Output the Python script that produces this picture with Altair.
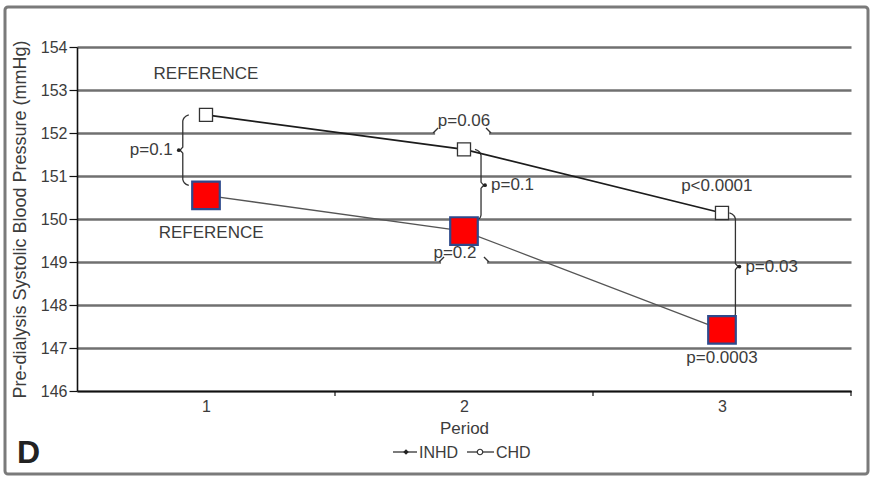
import altair as alt
import pandas as pd

# Pre-dialysis systolic blood pressure by period
periods = [1, 2, 3]
inhd_sbp = [150.55, 149.72, 147.42]
chd_sbp = [152.42, 151.62, 150.14]
y_ticks = [146, 147, 148, 149, 150, 151, 152, 153, 154]
x_ticks = [1, 2, 3]
band_edges = [1.5, 2.5, 3.5]

# between-group p-values per period, and which side of the points the brace sits
group_p = ["p=0.1", "p=0.1", "p=0.03"]
brace_side = [-1, 1, 1]
brace_shift = [0.09, 0.066, 0.052]

# within-group trend p-values
chd_trend = ["p=0.06", "p<0.0001"]
inhd_trend = ["p=0.2", "p=0.0003"]
reference_label = "REFERENCE"
legend_names = ["INHD", "CHD"]

FONT = "Liberation Sans"
TXT = "#3c3c3c"
W, H = 774, 344
XU = 3.0 / W  # x data units per pixel
YU = 8.0 / H  # y data units per pixel

xs = alt.Scale(domain=[0.5, 3.5], nice=False, zero=False)
ys = alt.Scale(domain=[146, 154], nice=False, zero=False)

x_axis = alt.Axis(
    values=x_ticks,
    title="Period",
    tickSize=0,
    labelPadding=7,
    labelFontSize=16,
    grid=False,
    titleY=29,
    titleBaseline="top",
    titleFontSize=17,
)
y_axis = alt.Axis(
    values=y_ticks,
    title="Pre-dialysis Systolic Blood Pressure (mmHg)",
    grid=True,
    tickSize=8,
    labelPadding=2,
    labelFontSize=16,
    titleX=-48,
    titleFontSize=18,
)

series = pd.DataFrame(
    {
        "period": periods * 2,
        "sbp": inhd_sbp + chd_sbp,
        "group": ["INHD"] * 3 + ["CHD"] * 3,
    }
)
inhd_df = series[series["group"] == "INHD"]
chd_df = series[series["group"] == "CHD"]

# vertical braces joining the two groups in each period
brace_rows, dot_rows, gp_rows = [], [], []
for i, p in enumerate(periods):
    s = brace_side[i]
    xc = p + s * brace_shift[i]
    ytop = chd_sbp[i]
    ybot = inhd_sbp[i] + 0.23
    ymid = (ytop + ybot) / 2
    hx, hy, px = 6 * XU, 6 * YU, 4 * XU
    pts = [
        (xc - s * hx, ytop),
        (xc - s * hx * 0.25, ytop - hy * 0.45),
        (xc, ytop - hy),
        (xc, ymid + hy * 0.5),
        (xc + s * px, ymid),
        (xc, ymid - hy * 0.5),
        (xc, ybot + hy),
        (xc - s * hx * 0.25, ybot + hy * 0.45),
        (xc - s * hx, ybot),
    ]
    for k, (bx, by) in enumerate(pts):
        brace_rows.append({"id": f"v{i}", "k": k, "x": bx, "y": by})
    dot_rows.append({"x": xc + s * px, "y": ymid})
    gp_rows.append(
        {
            "x": xc + s * (px + 6 * XU),
            "y": ymid,
            "label": group_p[i],
            "side": "left" if s > 0 else "right",
        }
    )

# horizontal braces on the gridlines for the period 1 vs 2 comparisons
gaps = [
    {"id": "h0", "x0": 1.888, "x1": 2.097, "y": 152.0},
    {"id": "h1", "x0": 1.911, "x1": 2.089, "y": 149.0},
]
gap_df = pd.DataFrame(gaps)
for g in gaps:
    lift = 5 * YU
    pts = [(g["x0"] - 2 * XU, g["y"]), (g["x0"] + 3 * XU, g["y"] + lift)]
    for k, (bx, by) in enumerate(pts):
        brace_rows.append({"id": g["id"] + "a", "k": k, "x": bx, "y": by})
    pts = [(g["x1"] - 3 * XU, g["y"] + lift), (g["x1"] + 2 * XU, g["y"])]
    for k, (bx, by) in enumerate(pts):
        brace_rows.append({"id": g["id"] + "b", "k": k, "x": bx, "y": by})

braces_df = pd.DataFrame(brace_rows)
dots_df = pd.DataFrame(dot_rows)
gp_df = pd.DataFrame(gp_rows)

trend_df = pd.DataFrame(
    {
        "x": [2.0, 2.98, 1.965, 3.0],
        "y": [chd_sbp[1] + 0.66, chd_sbp[2] + 0.62, inhd_sbp[1] - 0.52, inhd_sbp[2] - 0.65],
        "label": chd_trend + inhd_trend,
    }
)
ref_df = pd.DataFrame(
    {"x": [1.0, 1.02], "y": [153.37, 149.67], "label": [reference_label] * 2}
)
edge_df = pd.DataFrame({"x": band_edges})
one = pd.DataFrame({"k": [0]})


def X(f):
    return alt.X(f, scale=xs, axis=x_axis)


def Y(f):
    return alt.Y(f, scale=ys, axis=y_axis)


band_ticks = (
    alt.Chart(edge_df)
    .mark_rule(color="#111", strokeWidth=1.2)
    .encode(x=X("x:Q"), y=alt.value(H), y2=alt.value(H + 5))
)

gap_cover = (
    alt.Chart(gap_df)
    .mark_rule(color="white", strokeWidth=5)
    .encode(x=X("x0:Q"), x2="x1:Q", y=Y("y:Q"))
)

braces = (
    alt.Chart(braces_df)
    .mark_line(color="#333", strokeWidth=1.3, interpolate="monotone")
    .encode(x=X("x:Q"), y=Y("y:Q"), detail="id:N", order="k:Q")
)

brace_dots = (
    alt.Chart(dots_df)
    .mark_point(filled=True, color="#222", size=14, opacity=1)
    .encode(x=X("x:Q"), y=Y("y:Q"))
)

inhd_line = (
    alt.Chart(inhd_df)
    .mark_line(color="#555", strokeWidth=1.3)
    .encode(x=X("period:Q"), y=Y("sbp:Q"))
)
chd_line = (
    alt.Chart(chd_df)
    .mark_line(color="#1c1c1c", strokeWidth=1.7)
    .encode(x=X("period:Q"), y=Y("sbp:Q"))
)

inhd_pts = (
    alt.Chart(inhd_df)
    .mark_point(shape="square", filled=True, fill="#ff0000", stroke="#2e4a8c", strokeWidth=2.2, size=760, opacity=1)
    .encode(x=X("period:Q"), y=Y("sbp:Q"))
)
chd_pts = (
    alt.Chart(chd_df)
    .mark_point(shape="square", filled=True, fill="white", stroke="#333", strokeWidth=1.3, size=170, opacity=1)
    .encode(x=X("period:Q"), y=Y("sbp:Q"))
)


def text_layer(df, align="center"):
    return (
        alt.Chart(df)
        .mark_text(font=FONT, fontSize=17, color=TXT, baseline="middle", align=align)
        .encode(x=X("x:Q"), y=Y("y:Q"), text="label:N")
    )


gp_left = text_layer(gp_df[gp_df["side"] == "left"], "left")
gp_right = text_layer(gp_df[gp_df["side"] == "right"], "right")
trend_text = text_layer(trend_df)
ref_text = text_layer(ref_df)

# legend drawn beneath the axis title
LY = 405


def legend_rule(a, b):
    return (
        alt.Chart(one)
        .mark_rule(color="#333", strokeWidth=1.3)
        .encode(x=alt.value(a), x2=alt.value(b), y=alt.value(LY))
    )


def legend_label(name, px):
    return (
        alt.Chart(one)
        .mark_text(text=name, font=FONT, fontSize=16, color=TXT, align="left", baseline="middle")
        .encode(x=alt.value(px), y=alt.value(LY + 1))
    )


leg_inhd_mark = (
    alt.Chart(one)
    .mark_point(shape="diamond", filled=True, color="#222", size=30, opacity=1)
    .encode(x=alt.value(329), y=alt.value(LY))
)
leg_chd_mark = (
    alt.Chart(one)
    .mark_point(shape="circle", filled=True, fill="white", stroke="#333", strokeWidth=1.2, size=30, opacity=1)
    .encode(x=alt.value(403), y=alt.value(LY))
)

panel_letter = (
    alt.Chart(one)
    .mark_text(text="D", font=FONT, fontSize=32, fontWeight="bold", color="#222", align="left", baseline="alphabetic")
    .encode(x=alt.value(-60), y=alt.value(416))
)

frame = (
    alt.Chart(one)
    .mark_rect(fill=None, stroke="#7a7a7a", strokeWidth=3, cornerRadius=3)
    .encode(x=alt.value(-72), x2=alt.value(791), y=alt.value(-40), y2=alt.value(427))
)

chart = (
    alt.layer(
        gap_cover,
        band_ticks,
        braces,
        brace_dots,
        inhd_line,
        chd_line,
        inhd_pts,
        chd_pts,
        gp_left,
        gp_right,
        trend_text,
        ref_text,
        legend_rule(316, 340),
        legend_rule(390, 417),
        leg_inhd_mark,
        leg_chd_mark,
        legend_label(legend_names[0], 342),
        legend_label(legend_names[1], 419),
        panel_letter,
        frame,
    )
    .properties(
        width=W,
        height=H,
        autosize=alt.AutoSizeParams(type="none"),
        padding={"left": 77, "top": 47, "right": 21, "bottom": 89},
        background="white",
    )
    .configure_view(stroke=None)
    .configure_axis(
        labelFont=FONT,
        titleFont=FONT,
        labelColor=TXT,
        titleColor=TXT,
        titleFontWeight="normal",
        domainColor="#111",
        domainWidth=1.6,
        tickColor="#111",
        tickWidth=1.2,
        gridColor="#707070",
        gridWidth=2.6,
        gridOpacity=1,
    )
)

chart.save("out.html", embed_options={"renderer": "svg", "actions": False})
